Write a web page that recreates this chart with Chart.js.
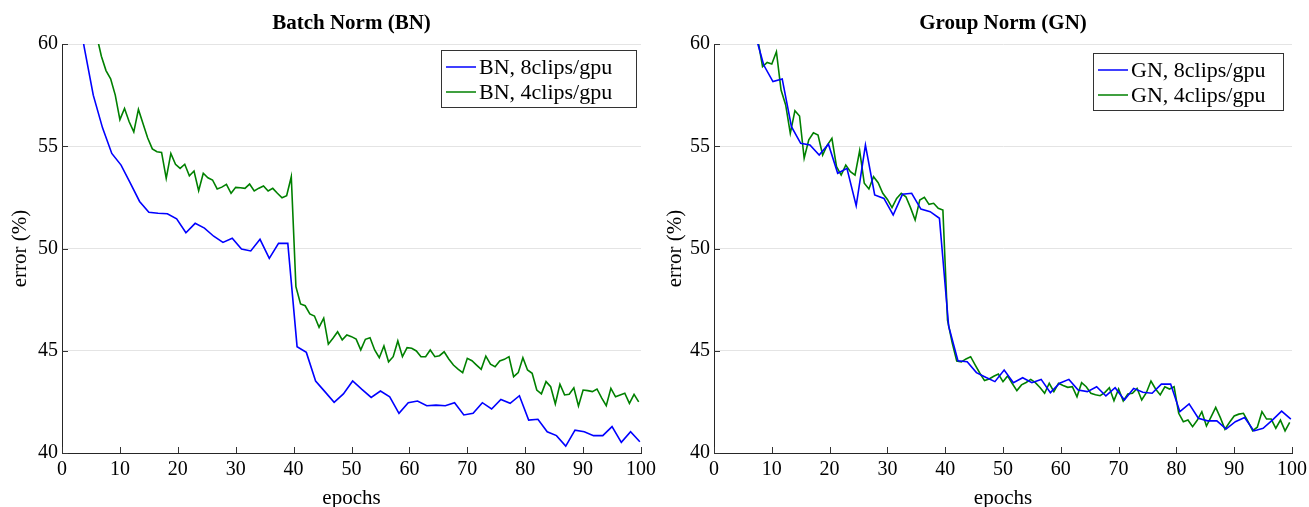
<!DOCTYPE html>
<html>
<head>
<meta charset="utf-8">
<script src="https://cdn.jsdelivr.net/npm/chart.js@4"></script>
<style>
  html, body { margin: 0; padding: 0; background: #fff; overflow: hidden; width: 1309px; height: 507px; }
  canvas { position: absolute; top: 0; }
</style>
</head>
<body>
<canvas id="bn" width="656" height="507" style="left:0"></canvas>
<canvas id="gn" width="654" height="507" style="left:655px"></canvas>
<script>
// epochs at which each run was evaluated
var epochs8 = [0.6, 2.2, 3.8, 5.4, 7.0, 8.6, 10.2, 11.8, 13.4, 15.0, 16.6, 18.2, 19.8, 21.4, 23.0, 24.6,
  26.2, 27.8, 29.4, 31.0, 32.6, 34.2, 35.8, 37.4, 39.0, 40.6, 42.2, 43.8, 45.4, 47.0, 48.6, 50.2,
  51.8, 53.4, 55.0, 56.6, 58.2, 59.8, 61.4, 63.0, 64.6, 66.2, 67.8, 69.4, 71.0, 72.6, 74.2, 75.8,
  77.4, 79.0, 80.6, 82.2, 83.8, 85.4, 87.0, 88.6, 90.2, 91.8, 93.4, 95.0, 96.6, 98.2, 99.8];
var epochs4 = [0.4, 1.2, 2.0, 2.8, 3.6, 4.4, 5.2, 6.0, 6.8, 7.6,
  8.4, 9.2, 10.0, 10.8, 11.6, 12.4, 13.2, 14.0, 14.8, 15.6,
  16.4, 17.2, 18.0, 18.8, 19.6, 20.4, 21.2, 22.0, 22.8, 23.6,
  24.4, 25.2, 26.0, 26.8, 27.6, 28.4, 29.2, 30.0, 30.8, 31.6,
  32.4, 33.2, 34.0, 34.8, 35.6, 36.4, 37.2, 38.0, 38.8, 39.6,
  40.4, 41.2, 42.0, 42.8, 43.6, 44.4, 45.2, 46.0, 46.8, 47.6,
  48.4, 49.2, 50.0, 50.8, 51.6, 52.4, 53.2, 54.0, 54.8, 55.6,
  56.4, 57.2, 58.0, 58.8, 59.6, 60.4, 61.2, 62.0, 62.8, 63.6,
  64.4, 65.2, 66.0, 66.8, 67.6, 68.4, 69.2, 70.0, 70.8, 71.6,
  72.4, 73.2, 74.0, 74.8, 75.6, 76.4, 77.2, 78.0, 78.8, 79.6,
  80.4, 81.2, 82.0, 82.8, 83.6, 84.4, 85.2, 86.0, 86.8, 87.6,
  88.4, 89.2, 90.0, 90.8, 91.6, 92.4, 93.2, 94.0, 94.8, 95.6,
  96.4, 97.2, 98.0, 98.8, 99.6];

// Batch Norm error (%)
var bnErr8 = [67.0, 62.8, 59.9, 57.5, 55.9, 54.65, 54.08, 53.2, 52.3, 51.77,
  51.72, 51.7, 51.45, 50.77, 51.23, 51.0, 50.6, 50.3, 50.5, 49.97,
  49.88, 50.45, 49.52, 50.25, 50.25, 45.2, 44.92, 43.52, 43.0, 42.48,
  42.89, 43.52, 43.11, 42.72, 43.03, 42.75, 41.94, 42.46, 42.54, 42.31,
  42.34, 42.31, 42.46, 41.86, 41.94, 42.46, 42.15, 42.62, 42.43, 42.8,
  41.61, 41.65, 41.04, 40.85, 40.34, 41.12, 41.04, 40.85, 40.85, 41.29,
  40.52, 41.04, 40.55];
var bnErr4 = [70.0, 68.5, 67.0, 65.5, 64.0, 62.7, 61.5, 60.4, 59.4, 58.7,
  58.3, 57.5, 56.3, 56.85, 56.2, 55.7, 56.8, 56.1, 55.4, 54.87,
  54.73, 54.7, 53.43, 54.65, 54.12, 53.92, 54.12, 53.56, 53.79, 52.83,
  53.68, 53.46, 53.35, 52.91, 53.0, 53.14, 52.7, 52.99, 52.97, 52.94,
  53.15, 52.81, 52.95, 53.06, 52.81, 52.94, 52.7, 52.48, 52.58, 53.51,
  48.13, 47.29, 47.2, 46.8, 46.7, 46.15, 46.59, 45.32, 45.61, 45.93,
  45.53, 45.77, 45.69, 45.57, 45.04, 45.56, 45.64, 45.04, 44.66, 45.23,
  44.46, 44.71, 45.48, 44.71, 45.15, 45.12, 44.99, 44.71, 44.71, 45.04,
  44.71, 44.76, 44.95, 44.6, 44.3, 44.1, 43.93, 44.63, 44.51, 44.3,
  44.09, 44.74, 44.34, 44.22, 44.5, 44.58, 44.71, 43.73, 43.93, 44.66,
  44.06, 43.9, 43.08, 42.89, 43.49, 43.24, 42.4, 43.36, 42.84, 42.87,
  43.19, 42.3, 43.08, 43.05, 43.0, 43.13, 42.7, 42.31, 43.16, 42.75,
  42.84, 42.92, 42.43, 42.87, 42.5];

// Group Norm error (%)
var gnErr8 = [68.0, 66.0, 64.0, 62.3, 60.6, 58.97, 58.16, 58.29, 55.96, 55.14,
  55.06, 54.57, 55.1, 53.68, 53.92, 52.09, 55.06, 52.62, 52.45, 51.64,
  52.65, 52.7, 51.93, 51.8, 51.48, 46.2, 44.51, 44.46, 43.93, 43.7,
  43.49, 44.06, 43.44, 43.68, 43.44, 43.6, 42.95, 43.41, 43.6, 43.08,
  43.0, 43.24, 42.79, 43.19, 42.59, 43.16, 42.97, 42.92, 43.37, 43.37,
  42.02, 42.4, 41.7, 41.57, 41.57, 41.17, 41.53, 41.73, 41.08, 41.21,
  41.61, 42.05, 41.66];
var gnErr4 = [72.0, 70.5, 69.0, 67.5, 66.0, 64.6, 63.3, 62.1, 61.0, 60.2,
  58.89, 59.1, 59.02, 59.62, 57.75, 57.02, 55.63, 56.74, 56.48, 54.41,
  55.31, 55.66, 55.55, 54.57, 55.06, 55.39, 54.0, 53.59, 54.08, 53.76,
  53.59, 54.78, 53.19, 52.91, 53.51, 53.22, 52.7, 52.4, 52.0, 52.45,
  52.7, 52.53, 52.0, 51.39, 52.37, 52.5, 52.16, 52.21, 51.97, 51.88,
  46.5, 45.4, 44.5, 44.45, 44.6, 44.71, 44.3, 43.9, 43.54, 43.62,
  43.75, 43.86, 43.49, 43.77, 43.4, 43.05, 43.33, 43.45, 43.6, 43.44,
  43.2, 42.92, 43.41, 43.0, 43.41, 43.3, 43.21, 43.24, 42.75, 43.44,
  43.24, 42.92, 42.85, 42.8, 42.95, 43.19, 42.56, 43.13, 42.54, 42.89,
  42.92, 43.16, 42.59, 42.95, 43.52, 43.13, 42.84, 43.24, 43.13, 43.24,
  41.94, 41.53, 41.61, 41.29, 41.6, 42.02, 41.32, 41.77, 42.23, 41.73,
  41.16, 41.5, 41.81, 41.9, 41.94, 41.53, 41.09, 41.26, 42.02, 41.66,
  41.66, 41.21, 41.61, 41.08, 41.5];

var xTicks = [0, 10, 20, 30, 40, 50, 60, 70, 80, 90, 100];
var yTicks = [40, 45, 50, 55, 60];

var serif = '"Liberation Serif", "Times New Roman", serif';

function points(xs, ys) {
    return xs.map(function(x, i) { return { x: x, y: ys[i] }; });
}

// short tick marks pointing into the plot
var innerTicks = {
    id: 'innerTicks',
    afterDraw: function(chart) {
        var ctx = chart.ctx, a = chart.chartArea;
        var sx = chart.scales.x, sy = chart.scales.y;
        ctx.save();
        ctx.strokeStyle = '#333';
        ctx.lineWidth = 1;
        ctx.beginPath();
        sx.ticks.forEach(function(t) {
            var px = Math.round(sx.getPixelForValue(t.value)) + 0.5;
            ctx.moveTo(px, a.bottom);
            ctx.lineTo(px, a.bottom - 6);
        });
        sy.ticks.forEach(function(t) {
            var py = Math.round(sy.getPixelForValue(t.value)) + 0.5;
            ctx.moveTo(a.left, py);
            ctx.lineTo(a.left + 6, py);
        });
        ctx.stroke();
        ctx.restore();
    }
};

// bold title centred over the plot area (the built-in one centres on the canvas)
var plotTitle = {
    id: 'plotTitle',
    afterDraw: function(chart, args, opts) {
        var ctx = chart.ctx, a = chart.chartArea;
        ctx.save();
        ctx.font = 'bold 21px ' + serif;
        ctx.fillStyle = '#000';
        ctx.textAlign = 'center';
        ctx.textBaseline = 'middle';
        ctx.fillText(opts.text, (a.left + a.right) / 2, opts.y);
        ctx.restore();
    }
};

// boxed legend in the upper right corner of the plot
var boxLegend = {
    id: 'boxLegend',
    afterDraw: function(chart, args, opts) {
        var ctx = chart.ctx, a = chart.chartArea;
        var sets = chart.data.datasets;
        ctx.save();
        ctx.font = '22px ' + serif;
        var textW = 0;
        sets.forEach(function(d) { textW = Math.max(textW, ctx.measureText(d.label).width); });
        var w = Math.round(5 + 30 + 3 + textW + opts.pad);
        var h = 57;
        var x = Math.round(a.right - opts.right - w);
        var y = Math.round(a.top + opts.top);
        ctx.fillStyle = '#fff';
        ctx.fillRect(x, y, w, h);
        ctx.strokeStyle = '#333';
        ctx.lineWidth = 1;
        ctx.strokeRect(x + 0.5, y + 0.5, w, h);
        sets.forEach(function(d, i) {
            var cy = y + 18 + i * 25;
            ctx.strokeStyle = d.borderColor;
            ctx.lineWidth = 1.5;
            ctx.beginPath();
            ctx.moveTo(x + 5, cy - 1);
            ctx.lineTo(x + 35, cy - 1);
            ctx.stroke();
            ctx.fillStyle = '#000';
            ctx.textBaseline = 'middle';
            ctx.fillText(d.label, x + 38, cy);
        });
        ctx.restore();
    }
};

function makeChart(id, title, name, err8, err4, yWidth, padRight, legendPos) {
    var ctx = document.getElementById(id).getContext('2d');
    return new Chart(ctx, {
        type: 'line',
        data: {
            datasets: [{
                label: name + ', 8clips/gpu',
                data: points(epochs8, err8),
                borderColor: '#0000ff',
                borderWidth: 1.6,
                pointRadius: 0,
                tension: 0,
                fill: false
            }, {
                label: name + ', 4clips/gpu',
                data: points(epochs4, err4),
                borderColor: '#008000',
                borderWidth: 1.6,
                pointRadius: 0,
                tension: 0,
                fill: false
            }]
        },
        options: {
            responsive: false,
            animation: false,
            layout: { padding: { left: 0, right: padRight, top: 44, bottom: 0 } },
            plugins: {
                legend: { display: false },
                tooltip: { enabled: false },
                title: { display: false },
                plotTitle: { text: title, y: 24 },
                boxLegend: legendPos
            },
            scales: {
                x: {
                    type: 'linear',
                    min: 0,
                    max: 100,
                    afterBuildTicks: function(s) { s.ticks = xTicks.map(function(v) { return { value: v }; }); },
                    afterFit: function(s) { s.height = 54; },
                    grid: { display: false },
                    border: { display: true, color: '#262626', width: 1 },
                    ticks: {
                        color: '#000',
                        padding: -3,
                        maxRotation: 0,
                        font: { family: serif, size: 20 }
                    },
                    title: {
                        display: true,
                        text: 'epochs',
                        color: '#000',
                        font: { family: serif, size: 21, lineHeight: 1.2 },
                        padding: { top: 0, bottom: -4 }
                    }
                },
                y: {
                    type: 'linear',
                    min: 40,
                    max: 60,
                    afterBuildTicks: function(s) { s.ticks = yTicks.map(function(v) { return { value: v }; }); },
                    afterFit: function(s) { s.width = yWidth; },
                    grid: { color: '#e4e4e4', lineWidth: 1, drawTicks: false },
                    border: { display: true, color: '#262626', width: 1 },
                    ticks: {
                        color: '#000',
                        padding: 4,
                        font: { family: serif, size: 20 }
                    },
                    title: {
                        display: true,
                        text: 'error (%)',
                        color: '#000',
                        font: { family: serif, size: 21, lineHeight: 1.2 },
                        padding: { top: 8, bottom: 0 }
                    }
                }
            }
        },
        plugins: [innerTicks, plotTitle, boxLegend]
    });
}

makeChart('bn', 'Batch Norm (BN)', 'BN', bnErr8, bnErr4, 62, 15, { right: 5, top: 6, pad: 24 });
makeChart('gn', 'Group Norm (GN)', 'GN', gnErr8, gnErr4, 59, 17, { right: 9, top: 9, pad: 18 });
</script>
</body>
</html>
